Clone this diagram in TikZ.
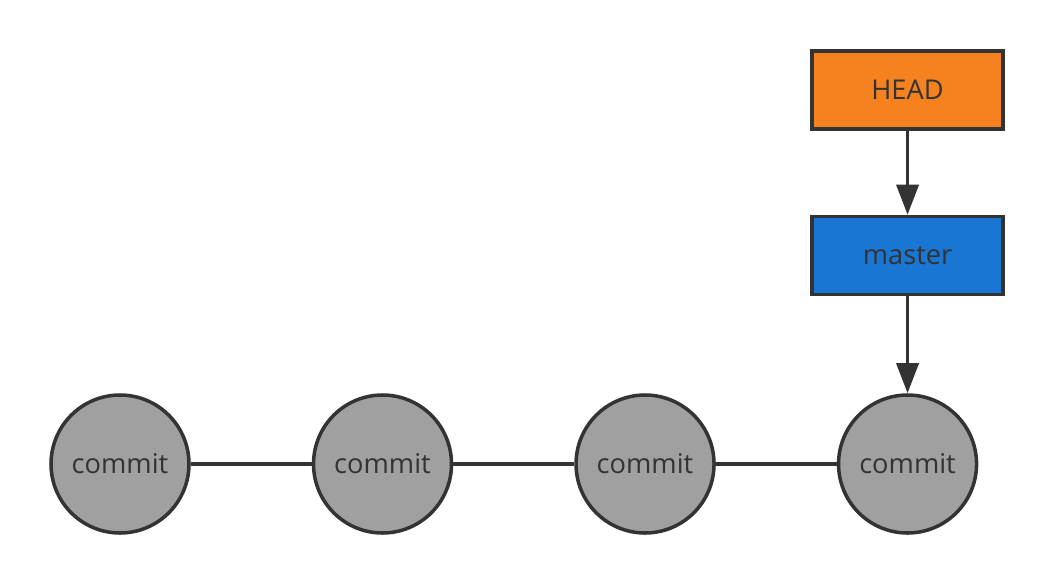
\documentclass[tikz,border=0pt]{standalone}
\usepackage{fontspec}
\setmainfont{Open Sans}
\usepackage{xcolor}
\usetikzlibrary{arrows.meta,positioning}

\definecolor{headorange}{HTML}{F5821F}
\definecolor{branchblue}{HTML}{1976D2}
\definecolor{commitgray}{HTML}{A0A0A0}
\definecolor{edgegray}{HTML}{333333}

\begin{document}
\begin{tikzpicture}[
    node distance=2.42cm,
    commit/.style={circle, draw=edgegray, line width=2pt, fill=commitgray, minimum size=2.76cm, inner sep=0pt, text=edgegray},
    ref/.style={rectangle, draw=edgegray, line width=2pt, minimum width=3.82cm, minimum height=1.56cm, align=center, text=edgegray},
    arrow/.style={-{Triangle[length=0.6cm,width=0.44cm]}, draw=edgegray, line width=2pt},
    link/.style={draw=edgegray, line width=2pt},
    font=\fontsize{15.5}{17}\selectfont
]
\useasboundingbox (0,0) rectangle (21.08,11.68);
% Commit chain
\node[commit] (c1) at (2.4,2.4) {commit};
\node[commit, right=of c1] (c2) {commit};
\node[commit, right=of c2] (c3) {commit};
\node[commit, right=of c3] (c4) {commit};
% Branch and HEAD
\node[ref, fill=branchblue, above=1.94cm of c4] (master) {master};
\node[ref, fill=headorange, above=1.68cm of master] (head) {HEAD};
% Links between commits
\draw[link] (c1) -- (c2);
\draw[link] (c2) -- (c3);
\draw[link] (c3) -- (c4);
% Pointers
\draw[arrow] (head) -- (master);
\draw[arrow] (master) -- (c4);
\end{tikzpicture}
\end{document}
